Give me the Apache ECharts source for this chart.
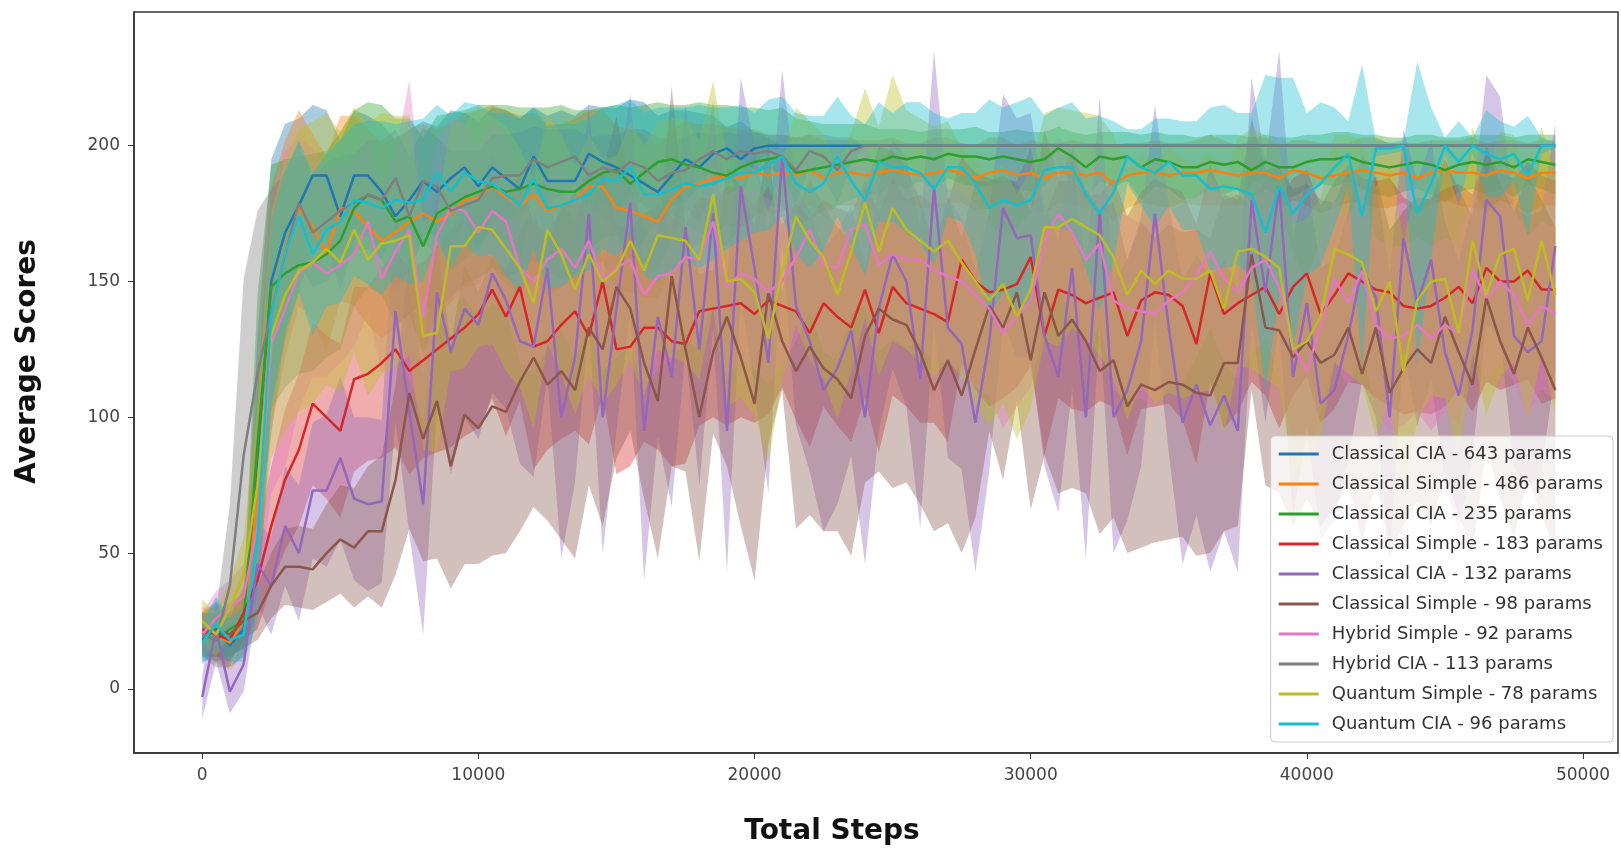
<!DOCTYPE html>
<html>
<head>
<meta charset="utf-8">
<script src="https://cdn.jsdelivr.net/npm/echarts@6/dist/echarts.min.js"></script>
<style>
  html, body { margin: 0; padding: 0; background: #fff; }
  #chart { width: 1621px; height: 851px; }
</style>
</head>
<body>
<div id="chart"></div>
<script>
  // evaluation steps (x)
  var steps = [
    0, 500, 1000, 1500, 2000, 2500, 3000, 3500, 4000, 4500,
    5000, 5500, 6000, 6500, 7000, 7500, 8000, 8500, 9000, 9500,
    10000, 10500, 11000, 11500, 12000, 12500, 13000, 13500, 14000, 14500,
    15000, 15500, 16000, 16500, 17000, 17500, 18000, 18500, 19000, 19500,
    20000, 20500, 21000, 21500, 22000, 22500, 23000, 23500, 24000, 24500,
    25000, 25500, 26000, 26500, 27000, 27500, 28000, 28500, 29000, 29500,
    30000, 30500, 31000, 31500, 32000, 32500, 33000, 33500, 34000, 34500,
    35000, 35500, 36000, 36500, 37000, 37500, 38000, 38500, 39000, 39500,
    40000, 40500, 41000, 41500, 42000, 42500, 43000, 43500, 44000, 44500,
    45000, 45500, 46000, 46500, 47000, 47500, 48000, 48500, 49000
  ]

  var names = [
    'Classical CIA - 643 params',
    'Classical Simple - 486 params',
    'Classical CIA - 235 params',
    'Classical Simple - 183 params',
    'Classical CIA - 132 params',
    'Classical Simple - 98 params',
    'Hybrid Simple - 92 params',
    'Hybrid CIA - 113 params',
    'Quantum Simple - 78 params',
    'Quantum CIA - 96 params'
  ]
  var colors = ['#1f77b4', '#ff7f0e', '#2ca02c', '#d62728', '#9467bd',
    '#8c564b', '#e377c2', '#7f7f7f', '#bcbd22', '#17becf']

  var xTicks = [0, 10000, 20000, 30000, 40000, 50000]
  var yTicks = [0, 50, 100, 150, 200]

  // Classical CIA - 643
  var cia643Mean = [
    18, 22, 16, 22, 85, 150, 168, 178, 189, 189,
    174, 189, 189, 183, 174, 180, 187, 183, 188, 192,
    185, 192, 188, 184, 196, 187, 187, 187, 197, 194,
    192, 189, 186, 183, 189, 195, 192, 197, 199, 195,
    199, 200, 200, 200, 200, 200, 200, 200, 200, 200,
    200, 200, 200, 200, 200, 200, 200, 200, 200, 200,
    200, 200, 200, 200, 200, 200, 200, 200, 200, 200,
    200, 200, 200, 200, 200, 200, 200, 200, 200, 200,
    200, 200, 200, 200, 200, 200, 200, 200, 200, 200,
    200, 200, 200, 200, 200, 200, 200, 200, 200
  ]
  var cia643Sd = [
    8, 10, 8, 10, 45, 45, 40, 32, 26, 24,
    28, 24, 22, 25, 28, 26, 22, 24, 25, 20,
    24, 22, 25, 26, 18, 24, 26, 24, 18, 20,
    22, 28, 30, 28, 24, 18, 20, 14, 8, 14,
    6, 3, 0, 0, 0, 0, 0, 0, 0, 0,
    0, 0, 0, 0, 0, 0, 0, 0, 0, 0,
    0, 0, 0, 0, 0, 0, 0, 0, 0, 0,
    0, 0, 0, 0, 0, 0, 0, 0, 0, 0,
    0, 0, 0, 0, 0, 0, 0, 0, 0, 0,
    0, 0, 0, 0, 0, 0, 0, 0, 0
  ]

  // Classical Simple - 486
  var simple486Mean = [
    22, 20, 17, 25, 70, 140, 162, 177, 170, 160,
    177, 176, 170, 165, 168, 172, 175, 172, 175, 180,
    181, 185, 181, 178, 182, 176, 178, 180, 185, 185,
    177, 176, 174, 172, 180, 185, 186, 188, 189, 188,
    190, 189, 190, 189, 191, 188, 190, 190, 189, 190,
    191, 190, 189, 190, 191, 190, 188, 190, 191, 189,
    190, 188, 190, 190, 189, 190, 186, 189, 190, 190,
    189, 190, 190, 191, 190, 189, 190, 190, 188, 191,
    190, 188, 189, 190, 191, 190, 189, 190, 188, 190,
    191, 190, 190, 189, 191, 190, 188, 190, 190
  ]
  var simple486Sd = [
    8, 10, 10, 12, 40, 45, 40, 36, 34, 36,
    34, 35, 36, 36, 35, 34, 33, 34, 33, 32,
    32, 30, 32, 33, 30, 32, 30, 30, 28, 28,
    30, 30, 30, 28, 26, 24, 22, 20, 18, 18,
    16, 15, 14, 14, 13, 14, 12, 12, 13, 12,
    12, 11, 12, 13, 12, 11, 12, 13, 12, 11,
    12, 13, 11, 12, 12, 11, 14, 12, 11, 12,
    12, 11, 12, 13, 12, 11, 12, 13, 12, 11,
    12, 13, 12, 11, 12, 13, 12, 11, 13, 12,
    11, 12, 13, 12, 11, 12, 13, 12, 12
  ]

  // Classical CIA - 235
  var cia235Mean = [
    20, 18, 22, 25, 90, 148, 153, 156, 157, 160,
    165, 177, 182, 180, 172, 174, 163, 175, 178, 181,
    183, 185, 183, 184, 186, 184, 183, 183, 187, 190,
    191, 186, 190, 194, 195, 193, 192, 190, 189, 192,
    194, 195, 196, 190, 191, 192, 193, 194, 195, 194,
    196, 195, 196, 195, 197, 196, 196, 195, 196, 195,
    194, 195, 199, 196, 192, 196, 195, 196, 192, 195,
    194, 192, 192, 194, 193, 194, 191, 194, 192, 192,
    194, 195, 195, 196, 194, 193, 192, 193, 194, 193,
    191, 193, 194, 193, 194, 192, 195, 194, 193
  ]
  var cia235Sd = [
    8, 8, 10, 10, 55, 45, 42, 40, 40, 38,
    40, 36, 34, 35, 38, 36, 40, 36, 34, 32,
    32, 30, 32, 30, 28, 30, 32, 30, 26, 24,
    24, 28, 25, 22, 20, 22, 24, 25, 26, 22,
    20, 18, 18, 20, 18, 16, 15, 14, 13, 12,
    10, 11, 9, 11, 9, 10, 11, 10, 9, 11,
    11, 10, 8, 9, 12, 9, 10, 9, 12, 10,
    10, 12, 11, 10, 11, 10, 12, 10, 11, 11,
    10, 9, 10, 9, 10, 11, 11, 10, 10, 11,
    12, 10, 10, 11, 10, 11, 9, 10, 11
  ]

  // Classical Simple - 183
  var simple183Mean = [
    22, 20, 18, 28, 40, 60, 77, 88, 105, 100,
    95, 114, 116, 120, 125, 117, 121, 125, 129, 133,
    138, 147, 137, 148, 126, 128, 134, 139, 130, 150,
    125, 126, 133, 133, 128, 127, 139, 140, 141, 142,
    138, 143, 141, 139, 131, 142, 137, 133, 147, 131,
    148, 142, 140, 138, 135, 158, 150, 146, 147, 149,
    159, 130, 147, 145, 142, 144, 146, 130, 143, 146,
    145, 141, 127, 153, 138, 142, 145, 148, 138, 148,
    153, 138, 145, 153, 150, 147, 146, 141, 140, 141,
    144, 148, 142, 155, 150, 150, 154, 147, 147
  ]
  var simple183Sd = [
    6, 8, 8, 10, 18, 22, 26, 28, 30, 30,
    32, 34, 32, 35, 36, 38, 36, 38, 40, 40,
    42, 40, 44, 42, 45, 40, 42, 44, 40, 42,
    46, 44, 42, 45, 46, 44, 42, 40, 44, 42,
    40, 42, 30, 40, 42, 38, 40, 42, 40, 44,
    40, 38, 42, 40, 44, 38, 40, 42, 40, 38,
    40, 44, 40, 42, 40, 38, 42, 44, 40, 42,
    40, 42, 44, 40, 42, 40, 32, 40, 42, 40,
    38, 40, 42, 40, 38, 40, 42, 40, 38, 40,
    40, 38, 40, 42, 40, 38, 40, 42, 40
  ]

  // Classical CIA - 132
  var cia132Mean = [
    -3, 22, -1, 9, 46, 38, 60, 50, 73, 73,
    85, 70, 68, 69, 139, 102, 68, 146, 124, 140,
    134, 153, 143, 128, 126, 155, 100, 122, 175, 100,
    140, 179, 95, 137, 115, 170, 125, 175, 95, 185,
    155, 120, 196, 141, 128, 110, 118, 132, 100, 140,
    160, 150, 114, 185, 133, 127, 98, 128, 177, 166,
    167, 130, 115, 155, 100, 176, 100, 110, 128, 175,
    133, 98, 112, 97, 108, 95, 180, 146, 185, 115,
    142, 105, 110, 130, 155, 144, 100, 166, 142, 158,
    124, 108, 132, 180, 174, 130, 124, 128, 163
  ]
  var cia132Sd = [
    8, 12, 8, 10, 15, 18, 22, 25, 25, 28,
    30, 30, 32, 30, 40, 45, 48, 42, 45, 40,
    42, 44, 40, 45, 48, 40, 52, 46, 40, 50,
    45, 40, 55, 44, 48, 45, 50, 42, 52, 40,
    45, 48, 32, 44, 48, 52, 50, 46, 54, 45,
    42, 46, 55, 50, 48, 46, 55, 48, 42, 44,
    45, 48, 50, 44, 52, 42, 50, 48, 46, 40,
    46, 52, 48, 54, 50, 52, 45, 48, 50, 52,
    46, 50, 48, 46, 42, 44, 52, 40, 45, 44,
    48, 50, 46, 46, 44, 48, 50, 48, 45
  ]

  // Classical Simple - 98
  var simple98Mean = [
    20, 22, 20, 25, 28, 38, 45, 45, 44, 50,
    55, 52, 58, 58, 77, 109, 92, 106, 82, 101,
    96, 104, 102, 113, 122, 112, 117, 110, 133, 125,
    148, 140, 120, 106, 152, 125, 100, 124, 137, 122,
    105, 146, 128, 117, 126, 118, 114, 107, 130, 140,
    136, 134, 124, 110, 121, 108, 125, 141, 133, 146,
    121, 146, 130, 136, 128, 117, 121, 104, 112, 110,
    113, 112, 109, 108, 120, 120, 160, 133, 132, 122,
    128, 120, 123, 133, 116, 133, 109, 118, 125, 120,
    137, 124, 112, 144, 128, 116, 133, 122, 110
  ]
  var simple98Sd = [
    8, 10, 8, 10, 10, 12, 14, 15, 15, 18,
    20, 22, 24, 28, 35, 50, 45, 58, 45, 55,
    50, 55, 52, 55, 55, 50, 62, 62, 58, 65,
    63, 45, 50, 58, 70, 45, 53, 30, 55, 62,
    65, 56, 18, 58, 62, 60, 56, 58, 54, 60,
    62, 58, 56, 52, 60, 58, 62, 46, 56, 40,
    55, 60, 58, 62, 56, 60, 58, 54, 60, 56,
    58, 56, 60, 58, 62, 60, 50, 58, 60, 62,
    58, 60, 56, 58, 62, 56, 60, 58, 56, 60,
    58, 60, 62, 56, 58, 60, 56, 58, 60
  ]

  // Hybrid Simple - 92
  var hybSimpleMean = [
    20, 26, 30, 34, 60, 127, 140, 153, 157, 153,
    156, 160, 172, 151, 161, 169, 137, 167, 177, 176,
    168, 176, 172, 155, 150, 158, 162, 155, 165, 151,
    155, 158, 145, 152, 153, 159, 158, 172, 148, 153,
    151, 146, 150, 159, 169, 156, 155, 169, 171, 156,
    160, 158, 158, 154, 152, 150, 145, 140, 131, 137,
    143, 165, 175, 168, 158, 164, 143, 140, 139, 138,
    143, 146, 152, 161, 151, 146, 155, 158, 148, 126,
    117, 134, 151, 142, 154, 134, 129, 130, 134, 129,
    134, 131, 154, 144, 150, 145, 134, 141, 138
  ]
  var hybSimpleSd = [
    8, 10, 10, 12, 30, 55, 58, 50, 42, 38,
    36, 34, 33, 35, 36, 55, 38, 34, 33, 32,
    32, 34, 33, 35, 34, 32, 30, 33, 32, 34,
    33, 32, 35, 34, 32, 30, 33, 30, 34, 32,
    33, 34, 30, 31, 30, 32, 34, 31, 30, 32,
    31, 32, 31, 34, 32, 33, 34, 32, 35, 33,
    32, 30, 28, 31, 32, 30, 33, 34, 32, 34,
    32, 33, 30, 28, 31, 32, 31, 30, 32, 34,
    33, 32, 30, 31, 30, 32, 34, 33, 32, 34,
    32, 33, 30, 31, 30, 32, 33, 31, 32
  ]

  // Hybrid CIA - 113
  var hybCiaMean = [
    20, 18, 38, 86, 116, 139, 160, 179, 168, 172,
    176, 179, 182, 180, 188, 174, 187, 185, 176, 178,
    180, 188, 189, 189, 195, 192, 194, 196, 189, 192,
    190, 194, 192, 187, 190, 191, 195, 198, 195, 198,
    197, 198, 196, 191, 198, 196, 191, 198, 200, 200,
    200, 200, 200, 200, 200, 200, 200, 200, 200, 200,
    200, 200, 200, 200, 200, 200, 200, 200, 200, 200,
    200, 200, 200, 200, 200, 200, 200, 200, 200, 200,
    200, 200, 200, 200, 200, 200, 200, 200, 200, 200,
    200, 200, 200, 200, 200, 200, 200, 200, 200
  ]
  var hybCiaSd = [
    8, 10, 30, 65, 60, 45, 30, 22, 20, 22,
    20, 18, 20, 22, 18, 22, 20, 18, 22, 20,
    18, 16, 15, 16, 12, 14, 12, 10, 14, 12,
    14, 12, 14, 16, 12, 12, 10, 6, 10, 6,
    8, 6, 8, 12, 6, 8, 12, 5, 0, 0,
    0, 0, 0, 0, 0, 0, 0, 0, 0, 0,
    0, 0, 0, 0, 0, 0, 0, 0, 0, 0,
    0, 0, 0, 0, 0, 0, 0, 0, 0, 0,
    0, 0, 0, 0, 0, 0, 0, 0, 0, 0,
    0, 0, 0, 0, 0, 0, 0, 0, 0
  ]

  // Quantum Simple - 78
  var qSimpleMean = [
    25, 20, 30, 42, 75, 130, 145, 154, 157, 162,
    157, 169, 158, 164, 165, 167, 130, 131, 163, 163,
    170, 169, 162, 155, 142, 169, 160, 147, 160, 150,
    154, 165, 154, 167, 166, 165, 158, 182, 150, 151,
    146, 129, 154, 174, 165, 159, 145, 161, 179, 161,
    177, 169, 165, 161, 165, 157, 150, 143, 149, 137,
    147, 170, 170, 173, 170, 167, 159, 145, 154, 149,
    154, 151, 151, 154, 140, 161, 162, 159, 155, 125,
    128, 137, 162, 160, 157, 139, 150, 117, 143, 150,
    151, 131, 165, 145, 160, 162, 143, 165, 145
  ]
  var qSimpleSd = [
    8, 8, 10, 14, 30, 45, 50, 52, 52, 50,
    48, 45, 50, 48, 46, 44, 42, 44, 46, 45,
    44, 42, 45, 44, 46, 42, 44, 46, 44, 45,
    42, 44, 46, 42, 44, 45, 44, 42, 46, 44,
    45, 46, 40, 40, 44, 45, 46, 44, 42, 46,
    49, 44, 45, 46, 44, 42, 45, 46, 44, 45,
    44, 42, 44, 40, 42, 44, 45, 46, 42, 44,
    45, 44, 42, 44, 46, 42, 44, 45, 44, 46,
    45, 44, 42, 44, 45, 46, 44, 48, 44, 42,
    44, 46, 42, 44, 45, 42, 44, 42, 44
  ]

  // Quantum CIA - 96
  var qCiaMean = [
    17, 24, 18, 20, 55, 138, 161, 174, 160, 169,
    172, 180, 179, 177, 180, 179, 180, 190, 183, 190,
    187, 186, 182, 178, 188, 177, 178, 180, 182, 188,
    187, 192, 182, 182, 184, 186, 185, 186, 188, 190,
    190, 193, 196, 186, 183, 186, 196, 187, 180, 194,
    192, 192, 190, 184, 192, 192, 186, 177, 180, 178,
    180, 191, 192, 192, 182, 175, 183, 196, 192, 190,
    194, 189, 189, 184, 185, 184, 182, 168, 185, 175,
    182, 186, 192, 197, 174, 199, 199, 200, 175, 186,
    200, 194, 200, 197, 195, 197, 189, 200, 200
  ]
  var qCiaSd = [
    8, 10, 8, 10, 30, 35, 30, 28, 30, 28,
    30, 28, 30, 32, 28, 30, 30, 25, 28, 26,
    28, 26, 30, 32, 26, 30, 30, 28, 28, 26,
    28, 25, 30, 32, 30, 28, 30, 28, 26, 25,
    22, 24, 22, 26, 28, 25, 22, 24, 28, 22,
    20, 24, 26, 28, 18, 20, 26, 40, 34, 38,
    38, 20, 22, 24, 28, 36, 26, 10, 14, 20,
    16, 20, 20, 30, 30, 28, 30, 58, 40, 50,
    30, 30, 22, 12, 56, 3, 2, 2, 56, 28,
    3, 15, 3, 16, 14, 10, 22, 3, 1
  ]

  var means = [cia643Mean, simple486Mean, cia235Mean, simple183Mean, cia132Mean,
    simple98Mean, hybSimpleMean, hybCiaMean, qSimpleMean, qCiaMean]
  var sds = [cia643Sd, simple486Sd, cia235Sd, simple183Sd, cia132Sd,
    simple98Sd, hybSimpleSd, hybCiaSd, qSimpleSd, qCiaSd]

  function hexToRgba (hex, a) {
    var n = parseInt(hex.slice(1), 16)
    return 'rgba(' + (n >> 16 & 255) + ',' + (n >> 8 & 255) + ',' + (n & 255) + ',' + a + ')'
  }

  // mean ± std band, drawn as one polygon through the axis scales
  function makeBand (k) {
    return {
      type: 'custom',
      silent: true,
      z: 1,
      data: [[0, 0]],
      encode: { x: 0, y: 1 },
      renderItem: function (params, api) {
        var mean = means[k]
        var sd = sds[k]
        var pts = []
        for (var i = 0; i < steps.length; i++) {
          pts.push(api.coord([steps[i], mean[i] + sd[i]]))
        }
        for (var j = steps.length - 1; j >= 0; j--) {
          pts.push(api.coord([steps[j], mean[j] - sd[j]]))
        }
        var cs = params.coordSys
        return {
          type: 'polygon',
          shape: { points: pts },
          style: { fill: hexToRgba(colors[k], 0.38) },
          clipPath: { type: 'rect', shape: { x: cs.x, y: cs.y, width: cs.width, height: cs.height } }
        }
      }
    }
  }

  var bandSeries = []
  var lineSeries = []
  means.forEach(function (mean, k) {
    bandSeries.push(makeBand(k))
    lineSeries.push({
      name: names[k],
      type: 'line',
      symbol: 'none',
      silent: true,
      z: 2,
      color: colors[k],
      lineStyle: { width: 2.5, color: colors[k] },
      data: mean.map(function (m, i) { return [steps[i], m] })
    })
  })

  var myChart = echarts.init(document.getElementById('chart'))
  myChart.setOption({
    animation: false,
    backgroundColor: '#fff',
    grid: {
      left: 134, right: 3, top: 12, bottom: 98,
      show: true, borderColor: '#333', borderWidth: 1.5,
      outerBoundsMode: 'none'
    },
    legend: {
      data: names,
      orient: 'vertical',
      right: 8,
      top: 436,
      padding: [9, 10, 9, 8],
      itemGap: 12,
      itemWidth: 40,
      itemHeight: 3,
      icon: 'rect',
      backgroundColor: 'rgba(255,255,255,0.8)',
      borderColor: '#ccc',
      borderWidth: 1,
      borderRadius: 4,
      textStyle: {
        fontFamily: 'DejaVu Sans', fontSize: 18, color: '#333',
        lineHeight: 18, padding: [0, 0, 0, 8]
      }
    },
    xAxis: {
      type: 'value',
      min: -2471,
      max: 51268,
      name: 'Total Steps',
      nameLocation: 'middle',
      nameGap: 65,
      nameTextStyle: {
        fontFamily: 'DejaVu Sans', fontWeight: 'bold', fontSize: 28, color: '#111',
        padding: [0, 88, 0, 0]
      },
      splitLine: { show: false },
      axisLine: { show: true, onZero: false, lineStyle: { color: '#333', width: 1.5 } },
      axisTick: { show: true, length: 6, customValues: xTicks, lineStyle: { color: '#333' } },
      axisLabel: {
        customValues: xTicks, margin: 14,
        formatter: function (v) { return String(v) },
        fontFamily: 'DejaVu Sans', fontSize: 17, color: '#444'
      }
    },
    yAxis: {
      type: 'value',
      min: -23.6,
      max: 249.2,
      name: 'Average Scores',
      nameLocation: 'middle',
      nameGap: 92,
      nameTextStyle: {
        fontFamily: 'DejaVu Sans', fontWeight: 'bold', fontSize: 28, color: '#111',
        padding: [0, 0, 0, 42]
      },
      splitLine: { show: false },
      axisLine: { show: true, onZero: false, lineStyle: { color: '#333', width: 1.5 } },
      axisTick: { show: true, length: 6, customValues: yTicks, lineStyle: { color: '#333' } },
      axisLabel: {
        customValues: yTicks, margin: 14,
        formatter: function (v) { return String(v) },
        fontFamily: 'DejaVu Sans', fontSize: 17, color: '#444'
      }
    },
    series: bandSeries.concat(lineSeries)
  })
</script>
</body>
</html>
